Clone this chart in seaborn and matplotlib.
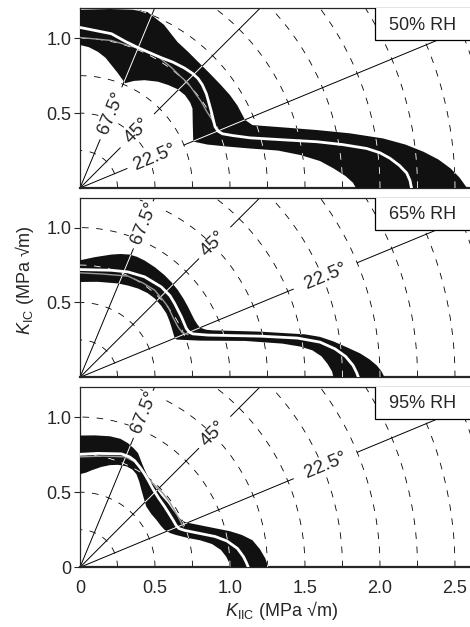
import numpy as np
import matplotlib
matplotlib.use("Agg")
import matplotlib.pyplot as plt
from matplotlib.patches import Rectangle
import seaborn as sns

# humidity levels, one panel each
rh_labels = ["50% RH", "65% RH", "95% RH"]

# fracture envelope, outer / inner edge of the scatter band (K_IIC, K_IC)
outer_50 = [(0, 1.19), (0.2, 1.195), (0.35, 1.19), (0.45, 1.175), (0.56, 1.09), (0.65, 0.975),
            (0.72, 0.91), (0.80, 0.83), (0.87, 0.76), (0.94, 0.687), (1.0, 0.62), (1.05, 0.55),
            (1.1, 0.455), (1.15, 0.42), (1.35, 0.405), (1.58, 0.387), (1.8, 0.365), (2.02, 0.331),
            (2.17, 0.29), (2.29, 0.242), (2.39, 0.19), (2.47, 0.131), (2.53, 0.07), (2.58, 0.0)]
inner_50 = [(0, 0.955), (0.06, 0.94), (0.12, 0.909), (0.17, 0.87), (0.21, 0.82), (0.25, 0.77),
            (0.3, 0.70), (0.36, 0.715), (0.43, 0.72), (0.52, 0.71), (0.59, 0.687), (0.65, 0.66),
            (0.7, 0.62), (0.735, 0.57), (0.75, 0.53), (0.752, 0.42), (0.755, 0.31), (0.85, 0.29),
            (0.99, 0.276), (1.13, 0.264), (1.32, 0.25), (1.47, 0.22), (1.6, 0.18), (1.69, 0.131),
            (1.77, 0.08), (1.82, 0.035), (1.84, 0.0)]
mean_50 = [(0, 1.072), (0.1, 1.052), (0.21, 1.03), (0.3, 0.98), (0.387, 0.937), (0.46, 0.905),
           (0.542, 0.87), (0.62, 0.84), (0.698, 0.80), (0.75, 0.765), (0.787, 0.731), (0.815, 0.69),
           (0.842, 0.63), (0.862, 0.56), (0.876, 0.509), (0.89, 0.45), (0.90, 0.41), (0.92, 0.38),
           (0.95, 0.362), (1.02, 0.35), (1.133, 0.335), (1.35, 0.322), (1.578, 0.309), (1.75, 0.29),
           (1.911, 0.264), (2.0, 0.235), (2.067, 0.198), (2.13, 0.15), (2.178, 0.1), (2.2, 0.05),
           (2.21, 0.0)]
fit_50 = [(0, 1.005), (0.209, 0.985), (0.431, 0.92), (0.53, 0.87), (0.609, 0.805), (0.67, 0.745),
          (0.72, 0.7), (0.77, 0.63), (0.809, 0.576), (0.845, 0.51), (0.876, 0.464), (0.9, 0.42),
          (0.92, 0.38)]

outer_65 = [(0, 0.782), (0.1, 0.803), (0.209, 0.82), (0.27, 0.824), (0.331, 0.82), (0.38, 0.805),
            (0.431, 0.78), (0.5, 0.735), (0.564, 0.682), (0.61, 0.635), (0.653, 0.582), (0.69, 0.525),
            (0.72, 0.471), (0.745, 0.42), (0.764, 0.382), (0.785, 0.35), (0.80, 0.332), (0.84, 0.318),
            (0.88, 0.314), (1.2, 0.305), (1.5, 0.287), (1.6, 0.27), (1.689, 0.24), (1.78, 0.2),
            (1.867, 0.16), (1.93, 0.12), (1.978, 0.08), (2.01, 0.04), (2.03, 0.0)]
inner_65 = [(0, 0.637), (0.12, 0.638), (0.253, 0.627), (0.32, 0.613), (0.387, 0.593), (0.45, 0.563),
            (0.498, 0.527), (0.54, 0.48), (0.576, 0.427), (0.595, 0.38), (0.609, 0.338), (0.62, 0.3),
            (0.631, 0.262), (0.645, 0.252), (0.8, 0.245), (1.1, 0.243), (1.35, 0.225), (1.47, 0.205),
            (1.55, 0.18), (1.61, 0.14), (1.65, 0.09), (1.68, 0.04), (1.69, 0.0)]
mean_65 = [(0, 0.72), (0.209, 0.715), (0.32, 0.704), (0.431, 0.671), (0.542, 0.604), (0.6, 0.545),
           (0.631, 0.493), (0.676, 0.404), (0.709, 0.326), (0.73, 0.30), (0.753, 0.29), (0.853, 0.282),
           (1.2, 0.275), (1.45, 0.262), (1.6, 0.235), (1.7, 0.19), (1.77, 0.14), (1.82, 0.08),
           (1.845, 0.03), (1.856, 0.0)]
fit_65 = [(0, 0.698), (0.15, 0.69), (0.32, 0.676), (0.42, 0.63), (0.498, 0.582), (0.55, 0.52),
          (0.587, 0.471), (0.62, 0.4), (0.653, 0.338), (0.68, 0.3), (0.72, 0.285)]

outer_95 = [(0, 0.877), (0.1, 0.878), (0.2, 0.872), (0.27, 0.855), (0.32, 0.826), (0.36, 0.79),
            (0.387, 0.76), (0.41, 0.70), (0.431, 0.649), (0.46, 0.59), (0.498, 0.538), (0.54, 0.48),
            (0.587, 0.427), (0.62, 0.38), (0.653, 0.338), (0.68, 0.31), (0.71, 0.298), (0.8, 0.28),
            (0.9, 0.26), (1.0, 0.24), (1.08, 0.215), (1.15, 0.18), (1.2, 0.12), (1.235, 0.06),
            (1.256, 0.0)]
inner_95 = [(0, 0.62), (0.04, 0.63), (0.076, 0.645), (0.142, 0.668), (0.2, 0.68), (0.253, 0.682),
            (0.31, 0.672), (0.35, 0.65), (0.376, 0.62), (0.395, 0.57), (0.409, 0.516), (0.425, 0.46),
            (0.442, 0.404), (0.475, 0.355), (0.509, 0.316), (0.54, 0.275), (0.564, 0.249),
            (0.6, 0.228), (0.64, 0.215), (0.72, 0.195), (0.8, 0.18), (0.88, 0.155), (0.94, 0.115),
            (0.975, 0.07), (0.995, 0.03), (1.0, 0.0)]
mean_95 = [(0, 0.752), (0.12, 0.758), (0.276, 0.755), (0.33, 0.735), (0.364, 0.71), (0.4, 0.665),
           (0.431, 0.62), (0.46, 0.57), (0.487, 0.52), (0.525, 0.46), (0.564, 0.404), (0.595, 0.355),
           (0.62, 0.315), (0.64, 0.28), (0.66, 0.258), (0.7, 0.245), (0.8, 0.225), (0.9, 0.205),
           (0.98, 0.175), (1.05, 0.125), (1.09, 0.07), (1.11, 0.03), (1.122, 0.0)]
fit_95 = [(0, 0.735), (0.15, 0.74), (0.3, 0.735), (0.37, 0.70), (0.42, 0.64), (0.47, 0.575),
          (0.553, 0.493), (0.6, 0.43), (0.653, 0.338), (0.69, 0.27)]

outer_bands = [outer_50, outer_65, outer_95]
inner_bands = [inner_50, inner_65, inner_95]
mean_curves = [mean_50, mean_65, mean_95]
fit_curves = [fit_50, fit_65, fit_95]

# mode-mixity angles of the radial guide lines
angles = [67.5, 45.0, 22.5]
angle_labels = ["67.5°", "45°", "22.5°"]

# layout: label radius and line gap (r0, r1) per angle, per panel
label_r = [[0.54, 0.54, 0.54], [1.12, 1.26, 1.77], [1.12, 1.26, 1.77]]
gap_r = [[(0.35, 0.73), (0.38, 0.70), (0.34, 0.75)],
         [(0.93, 1.24), (1.12, 1.42), (1.54, 2.0)],
         [(0.93, 1.24), (1.12, 1.42), (1.54, 2.0)]]
panel_px = [(8.3, 188.0), (197.7, 377.3), (387.0, 567.3)]

sns.set_style("ticks")
plt.rcParams["font.family"] = ["Liberation Sans", "DejaVu Sans"]
plt.rcParams["mathtext.fontset"] = "custom"
plt.rcParams["mathtext.rm"] = "Liberation Sans"
plt.rcParams["mathtext.it"] = "Liberation Sans:italic"

W, H = 470, 627
fig = plt.figure(figsize=(W / 100, H / 100), dpi=100)
fs = 13
theta = np.linspace(0, np.pi / 2, 300)
radii = np.arange(0.25, 3.01, 0.25)
arc_kw = dict(lw=0.6, dashes=(8, 9))

for i in range(3):
    top, bot = panel_px[i]
    ax = fig.add_axes([80 / W, 1 - bot / H, 390 / W, (bot - top) / H])
    ax.set_xlim(0, 2.6)
    ax.set_ylim(0, 1.2)

    # dashed iso-|K| arcs
    for r in radii:
        ax.plot(r * np.cos(theta), r * np.sin(theta), color="black", zorder=1, **arc_kw)

    # radial lines with a gap for the label
    segs = []
    for a, (g0, g1) in zip(angles, gap_r[i]):
        t = np.deg2rad(a)
        for r0, r1 in [(0, g0), (g1, 3.2)]:
            segs.append(((r0 * np.cos(t), r1 * np.cos(t)), (r0 * np.sin(t), r1 * np.sin(t))))
    for xs, ys in segs:
        ax.plot(xs, ys, color="black", lw=0.7, zorder=1)

    for a, lab, r in zip(angles, angle_labels, label_r[i]):
        t = np.deg2rad(a)
        ax.text(r * np.cos(t), r * np.sin(t), lab, rotation=a, rotation_mode="anchor",
                ha="center", va="center", fontsize=13.5, zorder=2,
                bbox=dict(facecolor="white", edgecolor="none", pad=0.5))

    # scatter band
    ox, oy = zip(*outer_bands[i])
    ix, iy = zip(*inner_bands[i])
    bx = list(ox) + list(ix)[::-1]
    by = list(oy) + list(iy)[::-1]
    band = ax.fill(bx, by, color="#111111", lw=0, zorder=3)[0]

    # guide lines turn white where they cross the band
    for r in radii:
        ln, = ax.plot(r * np.cos(theta), r * np.sin(theta), color="white", zorder=4, **arc_kw)
        ln.set_clip_path(band)
    for xs, ys in segs:
        ln, = ax.plot(xs, ys, color="white", lw=0.7, zorder=4)
        ln.set_clip_path(band)

    fx, fy = zip(*fit_curves[i])
    sns.lineplot(x=list(fx), y=list(fy), sort=False, estimator=None, color="#9a9a9a",
                 lw=1.0, ax=ax, zorder=5)
    mx, my = zip(*mean_curves[i])
    sns.lineplot(x=list(mx), y=list(my), sort=False, estimator=None, color="white",
                 lw=2.0, ax=ax, zorder=6)

    # humidity tag
    ax.add_patch(Rectangle((1.967, 0.987), 1.0, 0.4, facecolor="white", edgecolor="black",
                           lw=0.9, zorder=7))
    ax.text(2.287, 1.088, rh_labels[i], ha="center", va="center", fontsize=fs, zorder=8)

    ax.spines["right"].set_visible(False)
    ax.spines["bottom"].set_linewidth(1.6)
    ax.spines["left"].set_linewidth(0.9)
    ax.spines["top"].set_linewidth(0.9)
    if i < 2:
        ax.set_yticks([0.5, 1.0])
        ax.set_yticklabels(["0.5", "1.0"])
        ax.set_xticks([])
    else:
        ax.set_yticks([0, 0.5, 1.0])
        ax.set_yticklabels(["0", "0.5", "1.0"])
        ax.set_xticks([0, 0.5, 1.0, 1.5, 2.0, 2.5])
        ax.set_xticklabels(["0", "0.5", "1.0", "1.5", "2.0", "2.5"])
    ax.tick_params(axis="y", direction="out", length=4, width=0.8, pad=2, labelsize=fs)
    ax.tick_params(axis="x", direction="in", length=0, pad=9, labelsize=fs)

fig.text(25 / W, 1 - 280 / H, r"$K_{\mathrm{IC}}$ (MPa √m)", rotation=90,
         ha="center", va="center", fontsize=fs)
fig.text(282 / W, 1 - 610 / H, r"$K_{\mathrm{IIC}}$ (MPa √m)", ha="center", va="center",
         fontsize=fs)

fig.savefig("out.png", dpi=100)
